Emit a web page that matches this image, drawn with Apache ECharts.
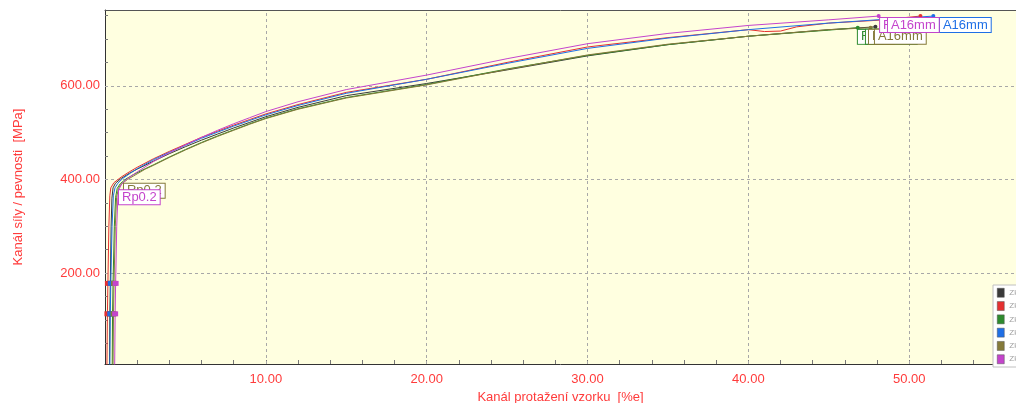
<!DOCTYPE html>
<html>
<head>
<meta charset="utf-8">
<script src="https://cdn.jsdelivr.net/npm/echarts@6/dist/echarts.min.js"></script>
<style>html,body{margin:0;padding:0;background:#fff;}#c{width:1016px;height:403px;}</style>
</head>
<body>
<div id="c"></div>
<script>
// ---- data (x: elongation %, y: stress MPa) ----
const seriesNames = ['Zk: 1', 'Zk: 2', 'Zk: 3', 'Zk: 4', 'Zk: 5', 'Zk: 6'];
const seriesColors = ['#3a3a3a', '#e53030', '#2e8b2e', '#1f6fe6', '#857a3a', '#c444cc'];

const zk1 = [[0.28,0],[0.30,113],[0.33,178],[0.38,300],[0.43,360],[0.50,382],[0.65,392],[1.0,402],[1.5,413],[2,422],[3,439],[4,455],[5,470],[6,484],[7,497],[8,510],[9,522],[10,534],[12,554],[15,579],[20,605],[25,634],[30,664],[35,688],[40,706],[45,720],[47.9,726]];
const zk2 = [[0.12,0],[0.15,113],[0.18,178],[0.24,300],[0.30,365],[0.36,382],[0.55,393],[1.0,405],[1.5,416],[2,426],[3,444],[4,460],[5,475],[6,490],[7,503],[8,516],[9,528],[10,540],[12,560],[15,586],[20,614],[25,650],[30,683],[35,703],[40,720],[41,716],[42,717],[43,726],[45,734],[48,740],[50.7,749]];
const zk3 = [[0.45,0],[0.47,113],[0.50,178],[0.58,300],[0.66,362],[0.76,381],[0.95,391],[1.3,401],[1.8,411],[2.5,423],[3,431],[4,448],[5,464],[6,479],[7,493],[8,506],[9,519],[10,531],[12,551],[15,575],[20,603],[25,636],[30,665],[35,688],[40,706],[45,719],[46.8,724]];
const zk4 = [[0.30,0],[0.33,113],[0.36,178],[0.44,300],[0.52,365],[0.62,382],[0.8,392],[1.1,402],[1.6,414],[2,423],[3,442],[4,458],[5,473],[6,488],[7,501],[8,514],[9,526],[10,538],[12,558],[15,584],[20,614],[25,648],[30,680],[35,702],[40,720],[45,734],[48,741],[51.5,749]];
const zk5 = [[0.50,0],[0.53,113],[0.56,178],[0.64,300],[0.72,362],[0.84,381],[1.0,390],[1.4,400],[2,412],[2.5,422],[3,430],[4,447],[5,463],[6,478],[7,492],[8,505],[9,518],[10,530],[12,550],[15,574],[20,602],[25,635],[30,666],[35,689],[40,706],[45,720],[47.6,724]];
const zk6 = [[0.60,0],[0.63,113],[0.66,178],[0.73,300],[0.80,362],[0.90,381],[1.05,391],[1.4,402],[2,416],[3,438],[4,457],[5,474],[6,490],[7,505],[8,519],[9,532],[10,545],[12,566],[15,592],[20,623],[25,658],[30,690],[35,712],[40,729],[45,741],[48.1,749]];
const allData = [zk1, zk2, zk3, zk4, zk5, zk6];

// annotation labels: [series index, text, x, y]
const annotations = [
  [2, 'Fm', 46.81, 704.6],
  [2, 'A16mm', 47.31, 704.6],
  [3, 'Fm', 51.48, 730],
  [3, 'A16mm', 51.91, 730],
  [4, 'Rp0.2', 1.18, 376],
  [4, 'Fm', 47.5, 704.6],
  [4, 'A16mm', 47.87, 704.6],
  [5, 'Rp0.2', 0.87, 362],
  [5, 'Fm', 48.19, 730],
  [5, 'A16mm', 48.68, 730]
];

// axes
const xMin = 0, xMax = 56.64;
const yMin = 5.8, yMax = 762;
const xLabelValues = [10, 20, 30, 40, 50];
const yLabelValues = [200, 400, 600];
const xTickValues = [2,4,6,8,10,12,14,16,18,20,22,24,26,28,30,32,34,36,38,40,42,44,46,48,50,52,54,56];
const yTickValues = [50,100,150,200,250,300,350,400,450,500,550,600,650,700,750];

const red = '#ff3b3b';
const font = 'Liberation Sans, Arial, sans-serif';
const series = allData.map((d, i) => {
  const mp = [
    { coord: d[1], symbol: 'rect', symbolSize: [6, 5] },
    { coord: d[2], symbol: 'rect', symbolSize: [6, 5] },
    { coord: d[d.length - 1], symbol: 'circle', symbolSize: 4 }
  ];
  annotations.filter(a => a[0] === i).forEach(a => {
    mp.push({
      coord: [a[2], a[3]], symbol: 'rect', symbolSize: 0,
      label: {
        show: true, formatter: a[1], position: 'right', distance: 0,
        color: seriesColors[i], fontSize: 13, lineHeight: 13, fontFamily: font,
        backgroundColor: '#ffffff', borderColor: seriesColors[i], borderWidth: 1, padding: [1, 3, 0, 3]
      }
    });
  });
  const s = {
    name: seriesNames[i], type: 'line', data: d, showSymbol: false, animation: false,
    lineStyle: { color: seriesColors[i], width: 1 }, itemStyle: { color: seriesColors[i] },
    markPoint: { data: mp, label: { show: false }, itemStyle: { color: seriesColors[i] }, silent: true, animation: false }
  };
  if (i === 0) {
    s.markLine = {
      silent: true, symbol: 'none', animation: false, z: 1,
      label: { show: false },
      lineStyle: { color: '#a8a8a8', type: [3, 3], width: 1 },
      data: xLabelValues.map(v => ({ xAxis: v })).concat(yLabelValues.map(v => ({ yAxis: v })))
    };
  }
  return s;
});

const chart = echarts.init(document.getElementById('c'), null, { renderer: 'canvas' });
chart.setOption({
  animation: false,
  backgroundColor: '#ffffff',
  textStyle: { fontFamily: font },
  grid: { left: 105, right: 0, top: 10, bottom: 39, show: true, backgroundColor: '#ffffe0', borderWidth: 0, containLabel: false, outerBoundsMode: 'none' },
  legend: {
    orient: 'vertical', left: 993, top: 285, itemWidth: 7, itemHeight: 9, itemGap: 3.8,
    icon: 'rect', backgroundColor: '#ffffff', borderColor: '#c0c0c0', borderWidth: 1, padding: [3, 4],
    textStyle: { color: '#a0a0a0', fontSize: 8 },
    data: seriesNames.map((n, i) => ({ name: n, itemStyle: { borderColor: '#555', borderWidth: 0.5 } }))
  },
  xAxis: [{
    type: 'value', min: xMin, max: xMax,
    name: 'Kanál protažení vzorku  [%e]', nameLocation: 'middle', nameGap: 25,
    nameTextStyle: { color: red, fontSize: 13 },
    axisLine: { show: true, lineStyle: { color: '#333333', width: 1 } },
    axisTick: { show: true, inside: true, length: 4, customValues: xTickValues, lineStyle: { color: '#777' } },
    axisLabel: { customValues: xLabelValues, color: red, fontSize: 13, margin: 9, formatter: v => v.toFixed(2) },
    splitLine: { show: false }
  }, {
    type: 'value', min: xMin, max: xMax, position: 'top',
    axisLine: { show: true, lineStyle: { color: '#555555', width: 1 } },
    axisTick: { show: false }, axisLabel: { show: false }, splitLine: { show: false }
  }],
  yAxis: {
    type: 'value', min: yMin, max: yMax,
    name: 'Kanál síly / pevnosti  [MPa]', nameLocation: 'middle', nameGap: 80, nameRotate: 90,
    nameTextStyle: { color: red, fontSize: 13 },
    axisLine: { show: true, lineStyle: { color: '#333333', width: 1 } },
    axisTick: { show: true, inside: true, length: 3, customValues: yTickValues, lineStyle: { color: '#777' } },
    axisLabel: { customValues: yLabelValues, color: red, fontSize: 13, margin: 5, formatter: v => v.toFixed(2) },
    splitLine: { show: false }
  },
  series: series
});
</script>
</body>
</html>
